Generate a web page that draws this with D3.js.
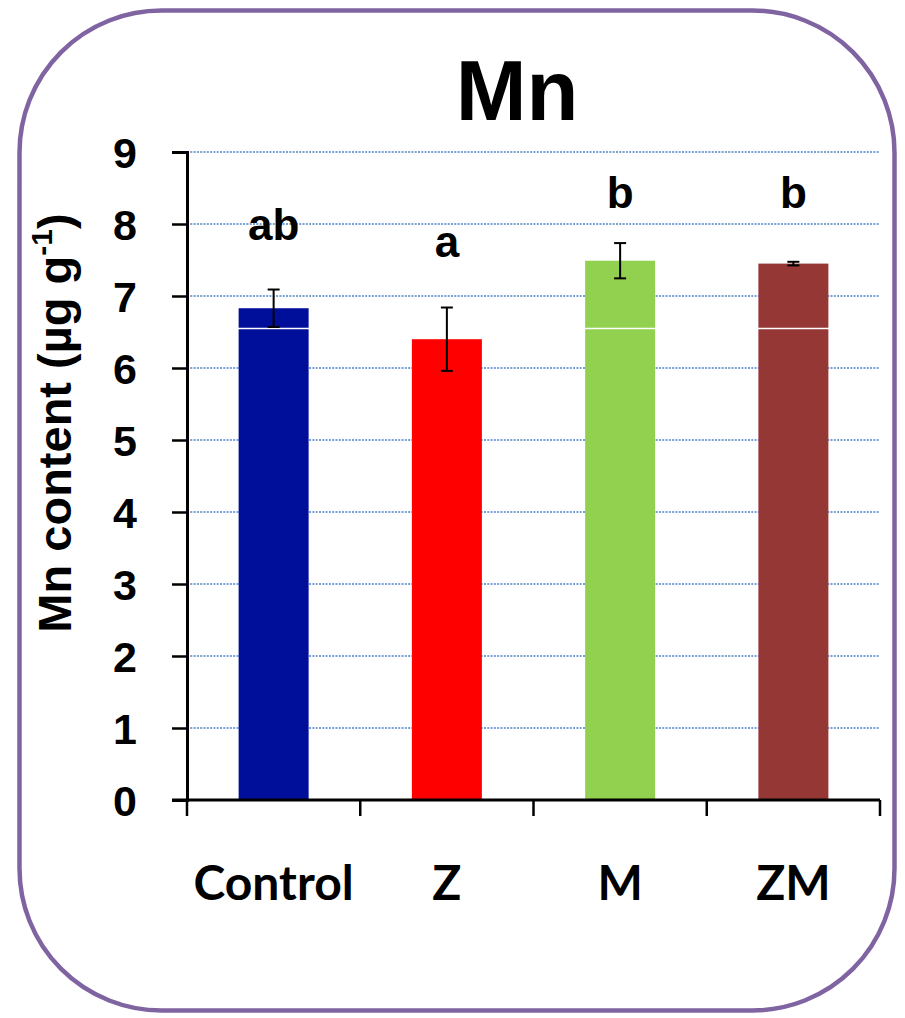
<!DOCTYPE html>
<html>
<head>
<meta charset="utf-8">
<script src="https://cdn.jsdelivr.net/npm/d3@7"></script>
<style>
  html, body { margin: 0; padding: 0; background: #fff; }
  svg { display: block; }
</style>
</head>
<body>
<svg id="chart" width="905" height="1018"></svg>
<script>
// Mn content per treatment (µg g-1), mean ± SE
const categories = ["Control", "Z", "M", "ZM"];
const means = [6.83, 6.40, 7.49, 7.45];
const errors = [0.26, 0.44, 0.245, 0.025];
const letters = ["ab", "a", "b", "b"];
const letterLevels = [7.78, 7.54, 8.22, 8.22];
const barColors = ["#000F9A", "#FF0000", "#92D050", "#953735"];
const yTicks = [0, 1, 2, 3, 4, 5, 6, 7, 8, 9];
const seamLevel = 6.55;

const svg = d3.select("#chart");

// rounded frame
svg.append("rect")
  .attr("x", 19.5).attr("y", 10.5)
  .attr("width", 875).attr("height", 1000)
  .attr("rx", 142).attr("ry", 142)
  .attr("fill", "#fff")
  .attr("stroke", "#8064A2")
  .attr("stroke-width", 4.5);

const plot = { left: 187, right: 880, top: 152, bottom: 800 };

const x = d3.scaleBand()
  .domain(categories)
  .range([plot.left, plot.right])
  .paddingInner(0.596)
  .paddingOuter(0.298);

const y = d3.scaleLinear()
  .domain([0, 9])
  .range([plot.bottom, plot.top]);

// dotted gridlines
svg.append("g")
  .selectAll("line")
  .data(yTicks.filter(t => t > 0))
  .join("line")
  .attr("x1", plot.left).attr("x2", plot.right)
  .attr("y1", d => y(d)).attr("y2", d => y(d))
  .attr("stroke", "#4F81CD")
  .attr("stroke-width", 1.7)
  .attr("stroke-dasharray", "2,1.3");

// bars
svg.append("g")
  .selectAll("rect")
  .data(categories)
  .join("rect")
  .attr("x", d => x(d))
  .attr("width", x.bandwidth())
  .attr("y", (d, i) => y(means[i]))
  .attr("height", (d, i) => y(0) - y(means[i]))
  .attr("fill", (d, i) => barColors[i]);

// thin white seam across the bars
svg.append("line")
  .attr("x1", plot.left + 2).attr("x2", plot.right)
  .attr("y1", y(seamLevel)).attr("y2", y(seamLevel))
  .attr("stroke", "#fff")
  .attr("stroke-width", 1.5);

// error bars
const eg = svg.append("g").attr("stroke", "#000").attr("stroke-width", 2);
categories.forEach((c, i) => {
  const cx = x(c) + x.bandwidth() / 2;
  const hi = y(means[i] + errors[i]);
  const lo = y(means[i] - errors[i]);
  eg.append("line").attr("x1", cx).attr("x2", cx).attr("y1", hi).attr("y2", lo);
  eg.append("line").attr("x1", cx - 6).attr("x2", cx + 6).attr("y1", hi).attr("y2", hi);
  eg.append("line").attr("x1", cx - 6).attr("x2", cx + 6).attr("y1", lo).attr("y2", lo);
});

// y axis
const yAxis = d3.axisLeft(y)
  .tickValues(yTicks)
  .tickSize(15)
  .tickPadding(35)
  .tickFormat(d3.format("d"));
const yg = svg.append("g")
  .attr("transform", `translate(${plot.left},0)`)
  .call(yAxis);
yg.select(".domain").attr("stroke", "#000").attr("stroke-width", 3);
yg.selectAll(".tick line").attr("stroke", "#000").attr("stroke-width", 2.5);
yg.selectAll(".tick text")
  .attr("fill", "#000")
  .attr("font-family", "'Liberation Sans', Arial, sans-serif")
  .attr("font-weight", "bold")
  .attr("font-size", 43)
  .attr("dy", "0.36em");

// x axis line and separators between categories
svg.append("line")
  .attr("x1", plot.left - 15).attr("x2", plot.right)
  .attr("y1", plot.bottom).attr("y2", plot.bottom)
  .attr("stroke", "#000").attr("stroke-width", 3);
const step = x.step();
const bounds = d3.range(categories.length + 1).map(i => plot.left + i * step);
svg.append("g")
  .selectAll("line")
  .data(bounds)
  .join("line")
  .attr("x1", d => d).attr("x2", d => d)
  .attr("y1", plot.bottom).attr("y2", plot.bottom + 16)
  .attr("stroke", "#000").attr("stroke-width", 2.5);

// category labels
svg.append("g")
  .selectAll("text")
  .data(categories)
  .join("text")
  .attr("x", d => x(d) + x.bandwidth() / 2)
  .attr("y", 900)
  .attr("text-anchor", "middle")
  .attr("font-family", "Lato, 'Open Sans', sans-serif")
  .attr("font-weight", "bold")
  .attr("font-size", 48)
  .attr("fill", "#000")
  .text(d => d);

// significance letters
svg.append("g")
  .selectAll("text")
  .data(categories)
  .join("text")
  .attr("x", d => x(d) + x.bandwidth() / 2)
  .attr("y", (d, i) => y(letterLevels[i]))
  .attr("text-anchor", "middle")
  .attr("font-family", "'Liberation Sans', Arial, sans-serif")
  .attr("font-weight", "bold")
  .attr("font-size", 44)
  .attr("fill", "#000")
  .text((d, i) => letters[i]);

// title
svg.append("text")
  .attr("x", 517)
  .attr("y", 120)
  .attr("text-anchor", "middle")
  .attr("font-family", "'Liberation Sans', Arial, sans-serif")
  .attr("font-weight", "bold")
  .attr("font-size", 85)
  .attr("fill", "#000")
  .text("Mn");

// y axis title
const yt = svg.append("text")
  .attr("transform", "translate(71,423) rotate(-90)")
  .attr("text-anchor", "middle")
  .attr("font-family", "'Liberation Sans', Arial, sans-serif")
  .attr("font-weight", "bold")
  .attr("font-size", 47)
  .attr("fill", "#000");
yt.append("tspan").text("Mn content (µg g");
yt.append("tspan").attr("font-size", 30).attr("dy", -19).text("-1");
yt.append("tspan").attr("dy", 19).text(")");
</script>
</body>
</html>
